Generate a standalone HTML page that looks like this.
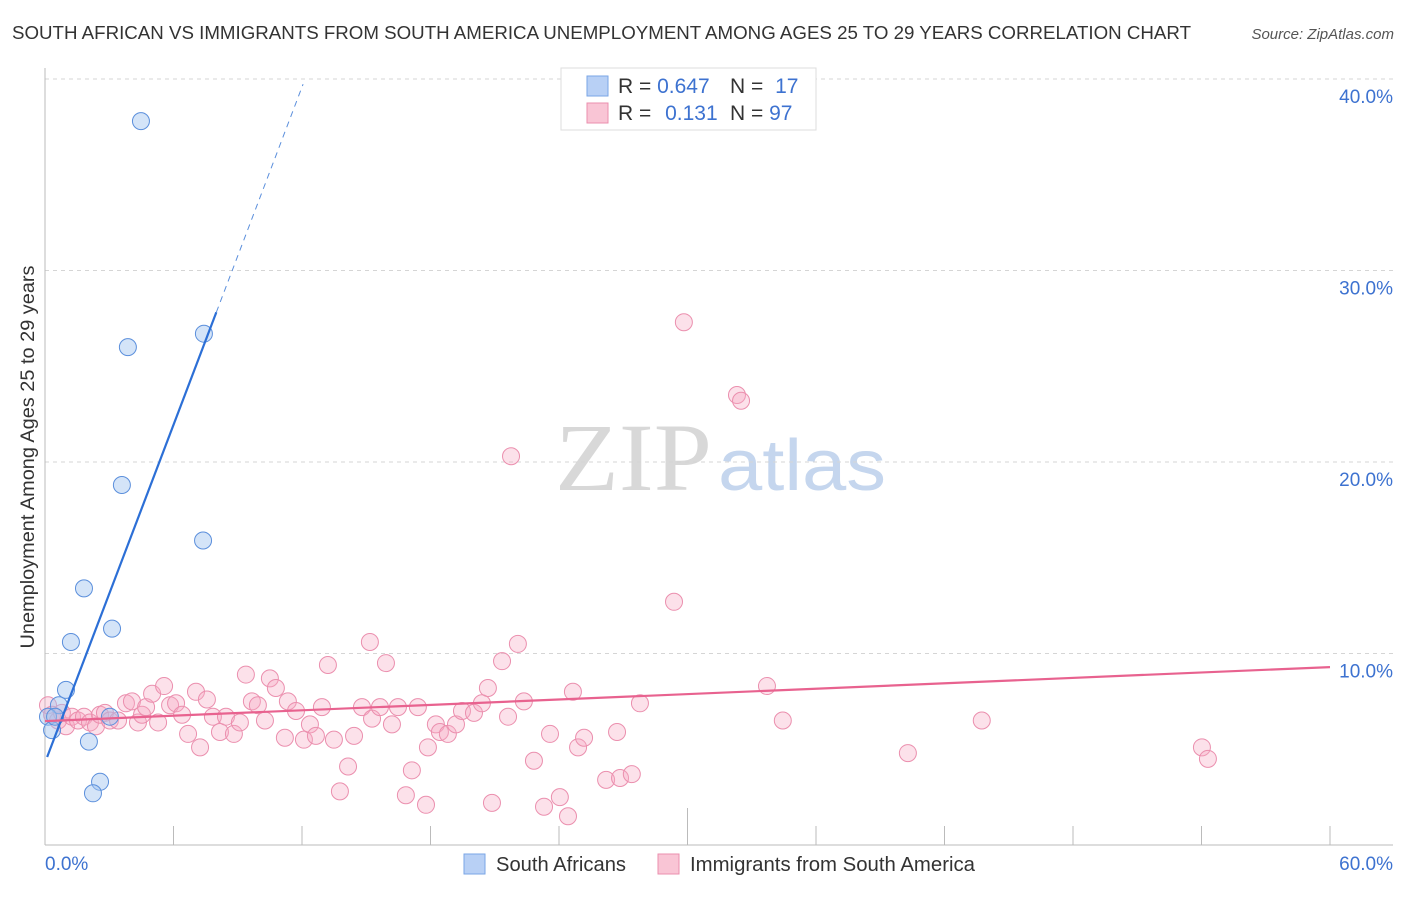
<!DOCTYPE html>
<html><head><meta charset="utf-8"><style>
body{margin:0;background:#fff;width:1406px;height:892px;overflow:hidden;font-family:"Liberation Sans",sans-serif}
</style></head><body>
<svg id="chart" width="1406" height="892" xmlns="http://www.w3.org/2000/svg" font-family="Liberation Sans, sans-serif">
<text x="12" y="39" font-size="18" fill="#333" textLength="1179" lengthAdjust="spacingAndGlyphs">SOUTH AFRICAN VS IMMIGRANTS FROM SOUTH AMERICA UNEMPLOYMENT AMONG AGES 25 TO 29 YEARS CORRELATION CHART</text>
<text x="1394" y="39" font-size="15" fill="#555" text-anchor="end" font-style="italic">Source: ZipAtlas.com</text>
<text transform="translate(34,457) rotate(-90)" font-size="19" fill="#333" text-anchor="middle" textLength="383" lengthAdjust="spacingAndGlyphs">Unemployment Among Ages 25 to 29 years</text>
<g>
<text x="555" y="490" font-size="96" font-family="Liberation Serif, serif" fill="#d8d8d8" textLength="157" lengthAdjust="spacingAndGlyphs">ZIP</text>
<text x="718" y="490" font-size="72" fill="#c5d6ee" textLength="168" lengthAdjust="spacingAndGlyphs">atlas</text>
</g>
<g id="grid"></g><g id="axes"></g><g id="pink"></g><g id="blue"></g><g id="lines"></g>
<g>
<rect x="561" y="68" width="255" height="62" fill="#fff" stroke="#ddd"/>
<rect x="587" y="76" width="21" height="20" fill="#b8d0f5" stroke="#7aa6e6"/>
<rect x="587" y="103" width="21" height="20" fill="#f9c5d5" stroke="#eb8fae"/>
<text x="618" y="93" font-size="21" fill="#333">R = <tspan fill="#3d72d0">0.647</tspan></text>
<text x="730" y="93" font-size="21" fill="#333">N = <tspan fill="#3d72d0" dx="6">17</tspan></text>
<text x="618" y="120" font-size="21" fill="#333">R = <tspan fill="#3d72d0" dx="8">0.131</tspan></text>
<text x="730" y="120" font-size="21" fill="#333">N = <tspan fill="#3d72d0">97</tspan></text>
</g>
<g>
<rect x="464" y="854" width="21" height="20" fill="#b8d0f5" stroke="#7aa6e6"/>
<text x="496" y="871" font-size="20" fill="#333" textLength="130" lengthAdjust="spacingAndGlyphs">South Africans</text>
<rect x="658" y="854" width="21" height="20" fill="#f9c5d5" stroke="#eb8fae"/>
<text x="690" y="871" font-size="20" fill="#333" textLength="285" lengthAdjust="spacingAndGlyphs">Immigrants from South America</text>
</g>
</svg>
<script>
const yTicks=[10,20,30,40];
const yTickLabels=["10.0%","20.0%","30.0%","40.0%"];
const xTicks=[0,6,12,18,24,30,36,42,48,54,60];
const xEndLabels=["0.0%","60.0%"];
const blueX=[4.48,3.87,7.42,3.59,7.38,1.82,3.13,1.21,0.98,0.65,0.14,0.33,3.03,2.05,2.57,2.24,0.47];
const blueY=[37.8,26.0,26.7,18.8,15.9,13.4,11.3,10.6,8.1,7.3,6.7,6.0,6.7,5.4,3.3,2.7,6.7];
const pinkX=[0.14,0.33,0.61,0.79,0.98,1.26,1.54,1.82,2.1,2.38,2.57,2.8,3.03,3.41,3.78,4.06,4.34,4.53,4.72,5.0,5.28,5.56,5.84,6.12,6.4,6.68,7.05,7.24,7.56,7.84,8.17,8.45,8.82,9.1,9.38,9.66,9.94,10.27,10.5,10.78,11.2,11.34,11.72,12.09,12.37,12.65,12.93,13.21,13.49,13.77,14.15,14.43,14.8,15.17,15.27,15.64,15.92,16.2,16.48,16.85,17.13,17.41,17.79,17.88,18.25,18.44,18.81,19.19,19.47,20.03,20.4,20.68,20.87,21.34,21.62,21.76,22.08,22.36,22.83,23.3,23.58,24.04,24.42,24.89,25.17,26.2,26.71,26.85,27.4,27.78,29.37,29.83,32.31,32.5,33.71,34.45,40.29,43.74,54.02,54.3,24.65];
const pinkY=[7.3,6.8,6.5,6.9,6.2,6.7,6.5,6.7,6.4,6.2,6.8,6.9,6.5,6.5,7.4,7.5,6.4,6.8,7.2,7.9,6.4,8.3,7.3,7.4,6.8,5.8,8.0,5.1,7.6,6.7,5.9,6.7,5.8,6.4,8.9,7.5,7.3,6.5,8.7,8.2,5.6,7.5,7.0,5.5,6.3,5.7,7.2,9.4,5.5,2.8,4.1,5.7,7.2,10.6,6.6,7.2,9.5,6.3,7.2,2.6,3.9,7.2,2.1,5.1,6.3,5.9,5.8,6.3,7.0,6.9,7.4,8.2,2.2,9.6,6.7,20.3,10.5,7.5,4.4,2.0,5.8,2.5,1.5,5.1,5.6,3.4,5.9,3.5,3.7,7.4,12.7,27.3,23.5,23.2,8.3,6.5,4.8,6.5,5.1,4.5,8.0];
const blueTrend=[4.3,2.94];   // intercept, slope
const pinkTrend=[6.47,0.047];
const blueSolidEnd=8.0, blueDashEnd=12.05;

const X=v=>45+v/60*1285, Y=v=>845-v*19.15;
const NS="http://www.w3.org/2000/svg";
function mk(parent,tag,attrs){const e=document.createElementNS(NS,tag);for(const k in attrs)e.setAttribute(k,attrs[k]);document.getElementById(parent).appendChild(e);return e;}

yTicks.forEach((t,i)=>{
  const g=mk('grid','line',{x1:45,x2:1393,y1:Y(t),y2:Y(t),stroke:'#d5d5d5','stroke-dasharray':'4,4'});
  
  
  const l=mk('grid','text',{x:1393,y:Y(t)+24,'font-size':19,fill:'#3d72d0','text-anchor':'end'});
  l.textContent=yTickLabels[i];
  
  
});
const ya=mk('axes','line',{x1:45,x2:45,y1:68,y2:845,stroke:'#bbb'});


const xa=mk('axes','line',{x1:45,x2:1393,y1:845,y2:845,stroke:'#bbb'});


xTicks.forEach(t=>{
  const tk=mk('axes','line',{x1:X(t),x2:X(t),y1:t==30?808:826,y2:845,stroke:'#bbb'});
  
  
});
const xl0=mk('axes','text',{x:45,y:870,'font-size':19,fill:'#3d72d0'});xl0.textContent=xEndLabels[0];


const xl1=mk('axes','text',{x:1393,y:870,'font-size':19,fill:'#3d72d0','text-anchor':'end'});xl1.textContent=xEndLabels[1];



pinkX.forEach((x,i)=>{
  const c=mk('pink','circle',{cx:X(x),cy:Y(pinkY[i]),r:8.5,fill:'rgba(246,170,196,0.35)',stroke:'#eb8fae','stroke-width':1});
  
  
});
blueX.forEach((x,i)=>{
  const c=mk('blue','circle',{cx:X(x),cy:Y(blueY[i]),r:8.5,fill:'rgba(160,195,240,0.45)',stroke:'#5b8fdc','stroke-width':1});
  
  
});
const bx0=0.1;
const b1=mk('lines','line',{x1:X(bx0),y1:Y(blueTrend[0]+blueTrend[1]*bx0),x2:X(blueSolidEnd),y2:Y(blueTrend[0]+blueTrend[1]*blueSolidEnd),stroke:'#2c6fd6','stroke-width':2.2});


const b2=mk('lines','line',{x1:X(blueSolidEnd),y1:Y(blueTrend[0]+blueTrend[1]*blueSolidEnd),x2:X(blueDashEnd),y2:Y(blueTrend[0]+blueTrend[1]*blueDashEnd),stroke:'#5b8fdc','stroke-width':1,'stroke-dasharray':'6,5'});


const p1=mk('lines','line',{x1:X(0),y1:Y(pinkTrend[0]),x2:X(60),y2:Y(pinkTrend[0]+pinkTrend[1]*60),stroke:'#e8628f','stroke-width':2.2});


</script>
</body></html>
